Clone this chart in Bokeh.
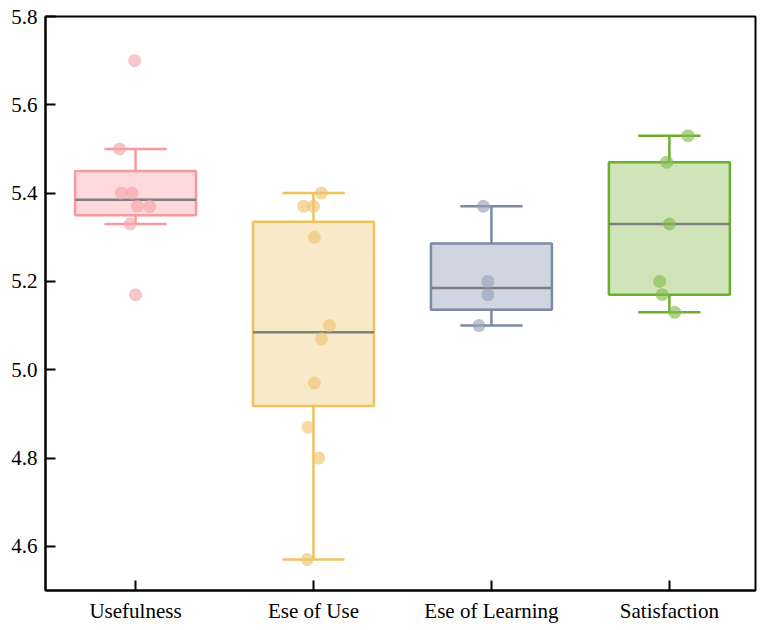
from bokeh.plotting import figure
from bokeh.models import Range1d, FixedTicker, ColumnDataSource
from bokeh.embed import file_html
from bokeh.resources import INLINE

categories = ["Usefulness", "Ese of Use", "Ese of Learning", "Satisfaction"]

# box statistics
q1 = [5.35, 4.918, 5.136, 5.17]
median = [5.385, 5.085, 5.185, 5.33]
q3 = [5.45, 5.335, 5.286, 5.47]
whisker_low = [5.33, 4.57, 5.10, 5.13]
whisker_high = [5.50, 5.40, 5.37, 5.53]

# individual observations
usefulness = [5.70, 5.50, 5.40, 5.40, 5.37, 5.37, 5.33, 5.17]
ease_of_use = [5.40, 5.37, 5.37, 5.30, 5.10, 5.07, 4.97, 4.87, 4.80, 4.57]
ease_of_learning = [5.37, 5.20, 5.17, 5.10]
satisfaction = [5.53, 5.47, 5.33, 5.20, 5.17, 5.13]

# horizontal jitter of the points (category units)
jit_usefulness = [-0.005, -0.09, -0.08, -0.02, 0.01, 0.08, -0.03, 0.0]
jit_ease_of_use = [0.045, -0.055, 0.0, 0.005, 0.09, 0.045, 0.005, -0.03, 0.03, -0.035]
jit_ease_of_learning = [-0.045, -0.02, -0.02, -0.07]
jit_satisfaction = [0.105, -0.015, 0.0, -0.055, -0.04, 0.03]

values = [usefulness, ease_of_use, ease_of_learning, satisfaction]
jitters = [jit_usefulness, jit_ease_of_use, jit_ease_of_learning, jit_satisfaction]

line_colors = ["#F59A9E", "#EFC25E", "#7C8AA6", "#6DAE2E"]
fill_colors = ["#FCD9DB", "#F8E9C9", "#CFD5E0", "#CFE4B8"]
point_colors = ["#F6A6AA", "#F0C46E", "#98A4BC", "#86BD50"]

p = figure(width=758, height=626, output_backend="svg", toolbar_location=None,
           x_range=Range1d(-0.506, 3.484), y_range=Range1d(4.5, 5.8),
           min_border_left=45, min_border_right=3, min_border_top=16, min_border_bottom=36)

p.xgrid.visible = False
p.ygrid.visible = False
p.outline_line_color = "black"
p.outline_line_width = 2
p.outline_line_alpha = 1
p.background_fill_color = "white"
p.border_fill_color = "white"

xs = list(range(len(categories)))
bw = 0.68
cw = 0.35

box_src = ColumnDataSource(dict(x=xs, q1=q1, q3=q3, med=median, lo=whisker_low, hi=whisker_high,
                                lc=line_colors, fc=fill_colors,
                                xl=[x - bw / 2 for x in xs], xr=[x + bw / 2 for x in xs],
                                cl=[x - cw / 2 for x in xs], cr=[x + cw / 2 for x in xs]))

# whiskers
p.segment(x0="x", y0="q3", x1="x", y1="hi", source=box_src, line_color="lc", line_width=2.5)
p.segment(x0="x", y0="lo", x1="x", y1="q1", source=box_src, line_color="lc", line_width=2.5)
p.segment(x0="cl", y0="hi", x1="cr", y1="hi", source=box_src, line_color="lc", line_width=2.5)
p.segment(x0="cl", y0="lo", x1="cr", y1="lo", source=box_src, line_color="lc", line_width=2.5)
# boxes
p.quad(left="xl", right="xr", bottom="q1", top="q3", source=box_src,
       fill_color="fc", line_color="lc", line_width=2.5)
# medians
p.segment(x0="xl", y0="med", x1="xr", y1="med", source=box_src, line_color="#7F7F7F", line_width=2.5)

# points
for i, (vals, jit) in enumerate(zip(values, jitters)):
    px = [i + j for j in jit]
    p.scatter(px, vals, size=13, fill_color=point_colors[i], line_color=None, fill_alpha=0.65)

# axes
for ax in (p.xaxis[0], p.yaxis[0]):
    ax.axis_line_width = 2
    ax.axis_line_color = "black"
    ax.major_tick_line_width = 2
    ax.major_tick_line_color = "black"
    ax.major_tick_in = 10
    ax.major_tick_out = 0
    ax.minor_tick_in = 0
    ax.minor_tick_out = 0
    ax.major_label_text_font = "Times New Roman"
    ax.major_label_text_font_size = "21px"
    ax.major_label_text_font_style = "normal"
    ax.major_label_text_color = "black"

p.xaxis.ticker = FixedTicker(ticks=xs)
p.xaxis.major_label_overrides = {i: c for i, c in enumerate(categories)}
p.xaxis.major_label_standoff = 8
p.yaxis.ticker = FixedTicker(ticks=[4.6, 4.8, 5.0, 5.2, 5.4, 5.6, 5.8])
p.yaxis.major_label_overrides = {4.6: "4.6", 4.8: "4.8", 5.0: "5.0", 5.2: "5.2", 5.4: "5.4", 5.6: "5.6", 5.8: "5.8"}
p.yaxis.major_label_standoff = 8

open("out.html", "w").write(file_html(p, INLINE))
